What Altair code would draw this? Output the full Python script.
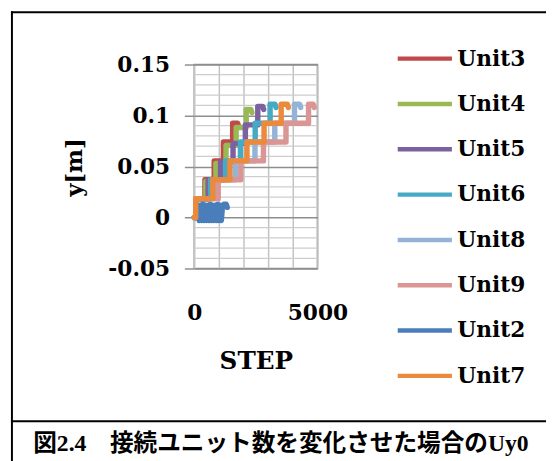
import altair as alt
import pandas as pd

# ---- data ----
units = ["Unit3", "Unit4", "Unit5", "Unit6", "Unit8", "Unit9", "Unit2", "Unit7"]
colors = ["#BE4B48", "#98B954", "#7D60A0", "#46AAC5", "#95B3D7", "#D99694", "#4A7EBB", "#EB8A3C"]

# STEP at which each staircase series jumps up, and the level it jumps to
rises_u3 = [60, 435, 810, 1185, 1560]
levels_u3 = [0.0185, 0.037, 0.0555, 0.074, 0.0925]
rises_u4 = [60, 470, 880, 1290, 1700, 2110]
levels_u4 = [0.0177, 0.0353, 0.053, 0.0707, 0.0883, 0.106]
rises_u5 = [60, 565, 1070, 1575, 2075, 2580]
levels_u5 = [0.0182, 0.0363, 0.0545, 0.0727, 0.0908, 0.109]
rises_u6 = [60, 665, 1270, 1875, 2475, 3080]
levels_u6 = [0.0185, 0.037, 0.0555, 0.074, 0.0925, 0.111]
rises_u8 = [60, 860, 1665, 2465, 3270, 4070]
levels_u8 = [0.0185, 0.037, 0.0555, 0.074, 0.0925, 0.111]
rises_u9 = [60, 975, 1890, 2810, 3725, 4640]
levels_u9 = [0.0185, 0.037, 0.0555, 0.074, 0.0925, 0.111]
rises_u7 = [60, 755, 1450, 2140, 2835, 3530]
levels_u7 = [0.0185, 0.037, 0.0555, 0.074, 0.0925, 0.111]

# last STEP of each staircase, and its small end hook
ends = {"Unit3": 1760, "Unit4": 2300, "Unit5": 2780, "Unit6": 3280,
        "Unit8": 4280, "Unit9": 4830, "Unit7": 3780}
hook_step = [40]
hook_drop = [0.003]

# Unit2: oscillating series
u2_step = [100, 150, 200, 250, 300, 350, 400, 450, 500, 550, 600, 650, 700,
           750, 800, 850, 900, 950, 1000, 1050, 1100, 1150, 1200, 1300, 1340]
u2_y = [0.000, 0.012, -0.003, 0.012, -0.003, 0.013, -0.003, 0.012, -0.003,
        0.012, -0.003, 0.013, -0.003, 0.012, -0.003, 0.012, -0.003, 0.013,
        -0.003, 0.012, -0.003, 0.012, 0.013, 0.013, 0.010]

minor_grid = [-0.04, -0.03, -0.02, -0.01, 0.01, 0.02, 0.03, 0.04,
              0.06, 0.07, 0.08, 0.09, 0.11, 0.12, 0.13, 0.14]
y_ticks = [-0.05, 0, 0.05, 0.1, 0.15]
x_ticks = [0, 1000, 2000, 3000, 4000, 5000]
caption = "図2.4\u3000接続ユニット数を変化させた場合のUy0"

stairs = {
    "Unit3": (rises_u3, levels_u3), "Unit4": (rises_u4, levels_u4),
    "Unit5": (rises_u5, levels_u5), "Unit6": (rises_u6, levels_u6),
    "Unit8": (rises_u8, levels_u8), "Unit9": (rises_u9, levels_u9),
    "Unit7": (rises_u7, levels_u7),
}

rows = []
for u in units:
    if u == "Unit2":
        xs, ys = list(u2_step), list(u2_y)
    else:
        r_list, l_list = stairs[u]
        xs, ys, prev = [0], [0.0], 0.0
        for r, lv in zip(r_list, l_list):
            xs += [r, r]
            ys += [prev, lv]
            prev = lv
        xs += [ends[u], ends[u] + hook_step[0]]
        ys += [prev, prev - hook_drop[0]]
    for i, (x, y) in enumerate(zip(xs, ys)):
        rows.append({"unit": u, "step": x, "y": y, "i": i})
df = pd.DataFrame(rows)

SERIF = "DejaVu Serif"
xscale = alt.Scale(domain=[0, 5000], nice=False, zero=False)
yscale = alt.Scale(domain=[-0.05, 0.15], nice=False, zero=False)

y_axis = alt.Axis(values=y_ticks, grid=True, gridColor="#8E8E8E", gridWidth=1.5,
                  tickColor="#8E8E8E", tickSize=10, tickWidth=1.5, domain=False,
                  labelExpr="'' + datum.value",
                  labelFont=SERIF, labelFontSize=22, labelFontWeight="bold",
                  labelColor="black", labelPadding=15,
                  titleFont=SERIF, titleFontSize=23, titleFontWeight="bold",
                  titleColor="black", titleAngle=270, titleBaseline="alphabetic",
                  titleX=-114, titleY=104)

minor = alt.Chart(pd.DataFrame({"v": minor_grid})).mark_rule(
    color="#CDCDCD", strokeWidth=1.3
).encode(y=alt.Y("v:Q", scale=yscale, title="y[m]", axis=y_axis))

lines = alt.Chart(df).mark_line(
    strokeWidth=5.5, strokeJoin="round", strokeCap="round"
).encode(
    x=alt.X("step:Q", scale=xscale, title="STEP",
            axis=alt.Axis(values=x_ticks, grid=True, gridColor="#C3C3C3", gridWidth=1.5,
                          ticks=False, domain=False, labelFlush=False,
                          labelExpr="datum.value == 0 || datum.value == 5000 ? '' + datum.value : ''",
                          labelFont=SERIF, labelFontSize=22, labelFontWeight="bold",
                          labelColor="black", labelPadding=35,
                          titleFont=SERIF, titleFontSize=25, titleFontWeight="bold",
                          titleColor="black", titleBaseline="middle", titleY=93)),
    y=alt.Y("y:Q", scale=yscale, title="y[m]", axis=y_axis),
    color=alt.Color("unit:N", scale=alt.Scale(domain=units, range=colors),
                    legend=alt.Legend(orient="none", legendX=204, legendY=-36, title=None,
                                      symbolType="stroke", symbolSize=3025,
                                      symbolStrokeWidth=4.5, labelFont=SERIF,
                                      labelFontSize=22, labelFontWeight="bold",
                                      labelColor="black", labelOffset=3, rowPadding=5,
                                      padding=0)),
    order=alt.Order("i:Q"),
)

one = alt.Data(values=[{"t": caption}])
left_border = alt.Chart(one).mark_rule(color="black", strokeWidth=2).encode(
    x=alt.value(-185), y=alt.value(-54), y2=alt.value(420))
top_border = alt.Chart(one).mark_rule(color="black", strokeWidth=2).encode(
    x=alt.value(-186), x2=alt.value(400), y=alt.value(-53))
divider = alt.Chart(one).mark_rule(color="black", strokeWidth=2).encode(
    x=alt.value(-186), x2=alt.value(400), y=alt.value(362))
cap = alt.Chart(one).mark_text(
    font="Liberation Serif, Noto Sans CJK JP", fontSize=24, fontWeight="bold",
    align="center", baseline="middle", color="black"
).encode(text="t:N", x=alt.value(88), y=alt.value(385))

chart = alt.layer(minor, lines, left_border, top_border, divider, cap).properties(
    width=125, height=207,
    padding={"left": 189, "top": 54, "right": 232, "bottom": 192},
    autosize=alt.AutoSizeParams(type="none"),
    background="white",
).configure_view(stroke="#8E8E8E", strokeWidth=1.5)

chart.save("out.html", embed_options={"renderer": "svg", "actions": False})
